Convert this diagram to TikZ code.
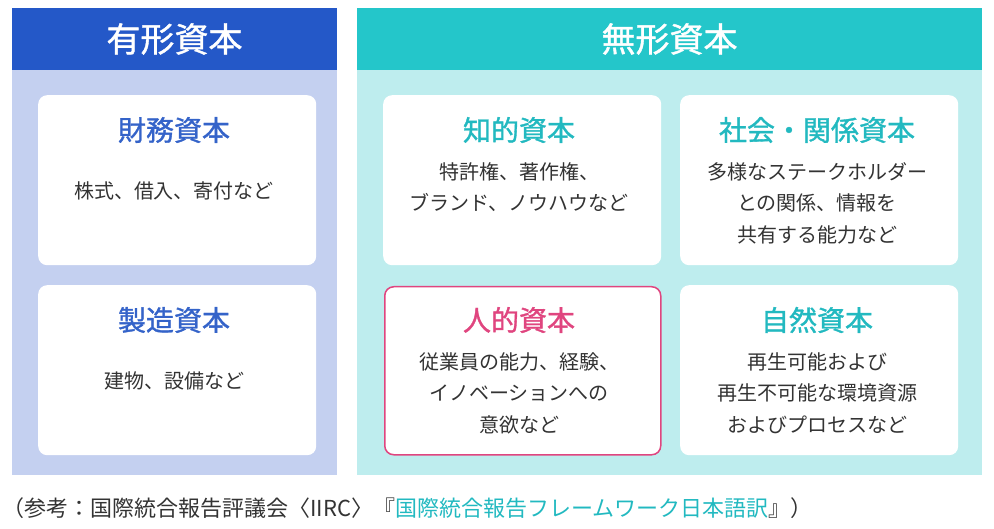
\documentclass[tikz,border=0pt]{standalone}
\usepackage{fontspec}
\setmainfont{Noto Sans CJK JP}
\newfontfamily\medfont[FakeBold=1.2]{Noto Sans CJK JP}
\definecolor{dblue}{HTML}{2458C8}
\definecolor{lblue}{HTML}{C4D0F0}
\definecolor{dteal}{HTML}{24C6CA}
\definecolor{lteal}{HTML}{BEEDEE}
\definecolor{tblue}{HTML}{3463C9}
\definecolor{tteal}{HTML}{22B9C0}
\definecolor{pink}{HTML}{E0457F}
\definecolor{txt}{HTML}{333333}
\begin{document}
\begin{tikzpicture}[x=1pt,y=-1pt,
  card/.style={fill=white,rounded corners=9pt,minimum width=278pt,minimum height=170pt,anchor=north west},
  head/.style={text=white,font=\medfont\fontsize{34}{34}\selectfont},
  ttl/.style={font=\medfont\fontsize{28}{28}\selectfont},
  body/.style={text=txt,font=\fontsize{20}{31.5}\selectfont,align=center}]
\useasboundingbox (0,0) rectangle (994,529);
\fill[lblue] (12,8) rectangle (337,475);
\fill[dblue] (12,8) rectangle (337,70);
\fill[lteal] (357,8) rectangle (982,475);
\fill[dteal] (357,8) rectangle (982,70);
\node[head] (h1) at (174.5,39) {有形資本};
\node[head] (h2) at (669.5,39) {無形資本};
\node[card] (c1) at (38,95) {};
\node[card] (c2) at (38,285) {};
\node[card] (c3) at (383,95) {};
\node[card] (c4) at (680,95) {};
\node[card,draw=pink,line width=1.5pt,minimum width=276pt,minimum height=168pt] (c5) at (384,286) {};
\node[card] (c6) at (680,285) {};
\node[ttl,text=tblue] (t1) at (174,130) {財務資本};
\node[body] (b1) at (174,191) {株式、借入、寄付など};
\node[ttl,text=tblue] (t2) at (174,320) {製造資本};
\node[body] (b2) at (174,381) {建物、設備など};
\node[ttl,text=tteal] (t3) at (519,130) {知的資本};
\node[body] (b3) at (519,187) {特許権、著作権、\\ブランド、ノウハウなど};
\node[ttl,text=tteal] (t4) at (817,130) {社会・関係資本};
\node[body] (b4) at (817,203) {多様なステークホルダー\\との関係、情報を\\共有する能力など};
\node[ttl,text=pink] (t5) at (519,320) {人的資本};
\node[body] (b5) at (519,393) {従業員の能力、経験、\\イノベーションへの\\意欲など};
\node[ttl,text=tteal] (t6) at (817,320) {自然資本};
\node[body] (b6) at (817,393) {再生可能および\\再生不可能な環境資源\\およびプロセスなど};
\node[anchor=west,text=txt,font=\fontsize{22}{22}\selectfont,inner sep=0pt] (f) at (2,508) {（参考：国際統合報告評議会〈IIRC〉『\textcolor{tteal}{国際統合報告フレームワーク日本語訳}』）};
\end{tikzpicture}
\end{document}
